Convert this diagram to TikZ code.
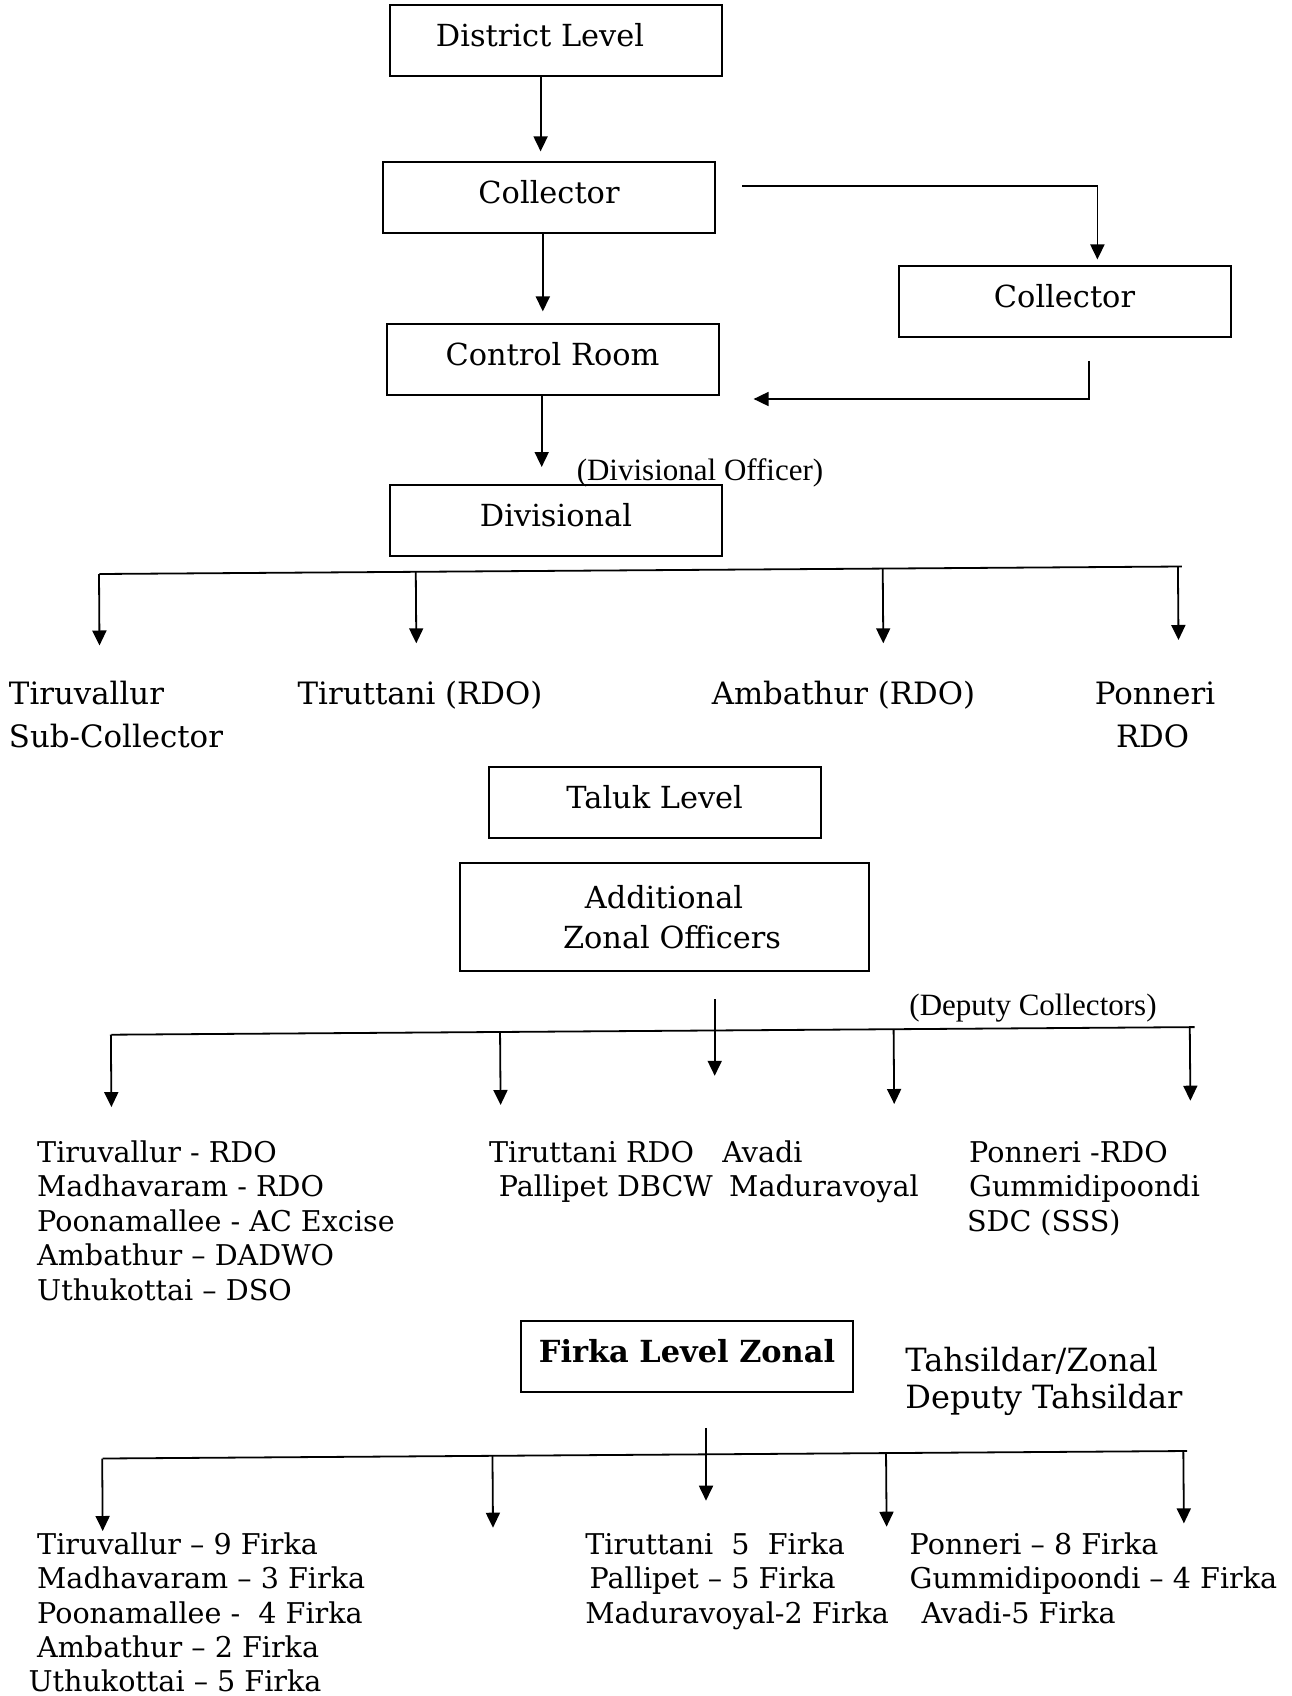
\documentclass[tikz,border=0pt]{standalone}
\usepackage{fontspec}
\setmainfont{DejaVu Serif}
\newfontfamily\timesfont{Liberation Serif}
\usetikzlibrary{arrows.meta}
\usetikzlibrary{calc}

\begin{document}
\begin{tikzpicture}[x=0.5pt, y=-0.5pt,
  box/.style={draw, line width=1pt, minimum width=166pt, minimum height=35.5pt,
    inner sep=0pt, text height=11pt, text depth=5pt, font=\fontsize{15.2}{20}\selectfont},
  lbl/.style={anchor=mid west, inner sep=0pt, yshift=-3.2pt, font=\fontsize{14.3}{18}\selectfont},
  biglbl/.style={lbl, font=\fontsize{15.4}{20}\selectfont},
  note/.style={inner sep=0pt, font=\timesfont\fontsize{15.5}{18}\selectfont},
  arr/.style={-{Triangle[length=7.5pt,width=7pt]}, line width=0.9pt},
  bar/.style={line width=0.9pt}]
\useasboundingbox (0,0) rectangle (1291,1696);

% district level
\node[box] (district)  at (556,41)      {District Level\hspace*{16pt}};
\node[box] (collector) at (549,198)     {Collector};
\node[box] (collectr)  at (1064.5,301.7) {Collector};
\node[box] (control)   at (552.5,359)   {Control Room};
\node[box] (division)  at (556,520)     {Divisional};
\node[note] (divoff)   at (700,473)     {(Divisional Officer)};

\coordinate (t1) at (540.6,151.4);
\coordinate (t2) at (542.8,311.4);
\coordinate (t3) at (1097.4,259.5);
\coordinate (t4) at (753.6,399);
\coordinate (t5) at (541.7,467);
\draw[arr] (district.south -| t1) -- (t1);
\draw[arr] (collector.south -| t2) -- (t2);
\draw[arr] ([xshift=13.2pt,yshift=6pt]collector.east) -| (t3);
\draw[arr] ([xshift=12.2pt,yshift=-11.3pt]collectr.south) |- (t4);
\draw[arr] (control.south -| t5) -- (t5);

% divisions
\coordinate (b1l) at (99.5,574);
\coordinate (b1r) at (1181.8,566.5);
\draw[bar] (b1l) -- (b1r);
\coordinate (d1) at (99.5,645.5);
\coordinate (d2) at (416.3,643.3);
\coordinate (d3) at (883.3,643.3);
\coordinate (d4) at (1178.5,640);
\foreach \n in {d1,d2,d3,d4}
  \draw[arr] ($(b1l)!(\n)!(b1r)$) -- (\n);

\node[biglbl] (tiruv)  at (8.6,693)    {Tiruvallur};
\node[biglbl] (subcol) at (8.6,736.3)  {Sub-Collector};
\node[biglbl] (tirut)  at (297.3,693)  {Tiruttani (RDO)};
\node[biglbl] (ambat)  at (711.4,693)  {Ambathur (RDO)};
\node[biglbl, anchor=mid] (ponn)    at (1155,693)   {Ponneri};
\node[biglbl, anchor=mid] (ponnrdo) at (1152.6,736.3) {RDO};

% taluk level
\node[box] (taluk) at (654.7,802.3) {Taluk Level};
\node[box, minimum width=204.5pt, minimum height=54pt, align=center,
  text height=, text depth=, font=\fontsize{15.2}{20}\selectfont] (addl) at (664,917)
  {Additional\\\hspace*{8pt}Zonal Officers};
\node[note] (depcol) at (1033,1008) {(Deputy Collectors)};

\coordinate (a4) at (714.7,1075.8);
\draw[arr, shorten <=13.5pt] (addl.south -| a4) -- (a4);
\coordinate (b2l) at (111.4,1034.7);
\coordinate (b2r) at (1194.7,1027.1);
\draw[bar] (b2l) -- (b2r);
\coordinate (e1) at (111.4,1107.1);
\coordinate (e2) at (500.6,1105);
\coordinate (e3) at (894.2,1104);
\coordinate (e4) at (1190.4,1100.7);
\foreach \n in {e1,e2,e3,e4}
  \draw[arr] ($(b2l)!(\n)!(b2r)$) -- (\n);

\foreach \txt [count=\i from 0] in {Tiruvallur - RDO, Madhavaram - RDO,
    Poonamallee - AC Excise, Ambathur -- DADWO, Uthukottai -- DSO}
  \node[lbl] (dl\i) at (36.8,1150.4+34.6*\i) {\txt};
\node[lbl] (dm0) at (488.7,1150.4) {\makebox[116.6pt][l]{Tiruttani RDO}Avadi};
\node[lbl] (dm1) at (498.4,1185)   {\makebox[115.2pt][l]{Pallipet DBCW}Maduravoyal};
\foreach \txt/\x [count=\i from 0] in {Ponneri -RDO/968.8, Gummidipoondi/968.8,
    SDC (SSS)/966.6}
  \node[lbl] (dr\i) at (\x,1150.4+34.6*\i) {\txt};

% firka level
\node[box, font=\fontsize{15.2}{20}\bfseries] (firka) at (687,1356) {Firka Level Zonal};
\node[biglbl, font=\fontsize{16}{20}\selectfont] (tahs)  at (905,1360.1) {Tahsildar/Zonal};
\node[biglbl, font=\fontsize{16}{20}\selectfont] (deptah) at (905,1396.9) {Deputy Tahsildar};

\coordinate (a5) at (706,1500.7);
\draw[arr, shorten <=17.7pt] (firka.south -| a5) -- (a5);
\coordinate (b3l) at (102.7,1458.5);
\coordinate (b3r) at (1187.2,1451);
\draw[bar] (b3l) -- (b3r);
\coordinate (f1) at (102.7,1531);
\coordinate (f2) at (493,1527.7);
\coordinate (f3) at (886.6,1526.7);
\coordinate (f4) at (1183.9,1523.4);
\foreach \n in {f1,f2,f3,f4}
  \draw[arr] ($(b3l)!(\n)!(b3r)$) -- (\n);

\foreach \txt/\x [count=\i from 0] in {Tiruvallur -- 9 Firka/36.8,
    Madhavaram -- 3 Firka/36.8, Poonamallee -~ 4 Firka/36.8,
    Ambathur -- 2 Firka/36.8, Uthukottai -- 5 Firka/28.1}
  \node[lbl] (fl\i) at (\x,1543+34.2*\i) {\txt};
\foreach \txt/\x [count=\i from 0] in {Tiruttani~ 5~ Firka/585,
    Pallipet -- 5 Firka/589.3, Maduravoyal-2 Firka/585}
  \node[lbl] (fm\i) at (\x,1543+34.2*\i) {\txt};
\foreach \txt/\x [count=\i from 0] in {Ponneri -- 8 Firka/909.3,
    Gummidipoondi -- 4 Firka/909.3, Avadi-5 Firka/921.2}
  \node[lbl] (fr\i) at (\x,1543+34.2*\i) {\txt};
\end{tikzpicture}
\end{document}
